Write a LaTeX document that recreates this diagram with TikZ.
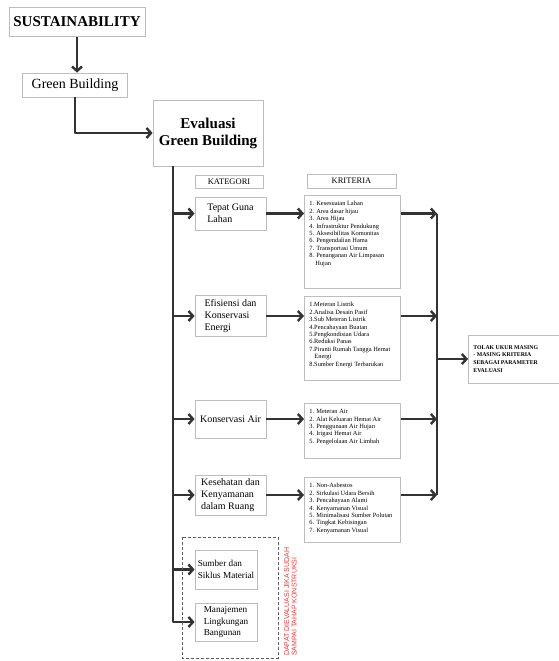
\documentclass[tikz,border=0pt]{standalone}
\usepackage{fontspec}
\setmainfont{Liberation Serif}
\newfontfamily\notefont{Liberation Sans}
\usetikzlibrary{arrows.meta,calc,positioning}
\definecolor{boxgray}{HTML}{BDBDBD}
\definecolor{linegray}{HTML}{333333}
\definecolor{notered}{HTML}{E5383B}
\tikzset{
  box/.style={draw=boxgray,line width=0.8pt,inner sep=0pt,align=left},
  catbox/.style={box,minimum width=71pt,font=\fontsize{10}{12}\selectfont},
  smallcat/.style={catbox,minimum width=62pt,font=\fontsize{9.2}{11.5}\selectfont},
  line/.style={line width=2.4pt,draw=linegray,line join=round},
  flow/.style={line,-{Straight Barb[length=4.5pt,width=10pt]}},
}
\newcommand{\critlist}[2]{\parbox[c][#1][t]{86pt}{\fontsize{6.4}{7.4}\selectfont\vspace*{1pt}#2}}
\begin{document}
\begin{tikzpicture}[x=1pt,y=-1pt]
\useasboundingbox (0,0) rectangle (559,661);
% top of the chain
\node[box,minimum width=136pt,minimum height=29pt,font=\bfseries\fontsize{15}{17}\selectfont] (sust) at (77,22) {SUSTAINABILITY};
\node[box,minimum width=105pt,minimum height=24pt,font=\fontsize{14}{16}\selectfont] (green) at (75,85) {Green Building};
\node[box,minimum width=110pt,minimum height=66pt,align=center,font=\bfseries\fontsize{15}{17}\selectfont] (eval) at (208,133) {Evaluasi\\Green Building};
\node[box,minimum width=68pt,minimum height=13pt,font=\fontsize{8.5}{9}\selectfont] (kat) at (229,182) {KATEGORI};
\node[box,minimum width=89pt,minimum height=14pt,font=\fontsize{8.5}{9}\selectfont] (krit) at (351.5,181) {KRITERIA};
% kategori
\node[catbox,minimum height=33pt] (tgl) at (230.5,213.5) {Tepat Guna\\Lahan};
\node[catbox,minimum height=41pt] (eke) at (230.5,316) {Efisiensi dan\\Konservasi\\Energi};
\node[catbox,minimum height=38pt] (ka) at (230.5,419) {Konservasi Air};
\node[catbox,minimum height=40pt] (kkr) at (230.5,495) {Kesehatan dan\\Kenyamanan\\dalam Ruang};
\node[smallcat,minimum height=39pt] (ssm) at (226,569.5) {Sumber dan\\Siklus Material};
\node[smallcat,minimum height=38pt] (mlb) at (226,622) {Manajemen\\Lingkungan\\Bangunan};
% kriteria
\node[box,inner sep=5pt,anchor=north west] (k1) at (304,195) {\critlist{83pt}{1. Kesesuaian Lahan\\2. Area dasar hijau\\3. Area Hijau\\4. Infrastruktur Pendukung\\5. Aksesibilitas Komunitas\\6. Pengendalian Hama\\7. Transportasi Umum\\8. Penanganan Air Limpasan\\\hspace*{6pt}Hujan}};
\node[box,inner sep=5pt,anchor=north west] (k2) at (304,296) {\critlist{74pt}{1.Meteran Listrik\\2.Analisa Desain Pasif\\3.Sub Meteran Listrik\\4.Pencahayaan Buatan\\5.Pengkondisian Udara\\6.Reduksi Panas\\7.Piranti Rumah Tangga Hemat\\\hspace*{5pt}Energi\\8.Sumber Energi Terbarukan}};
\node[box,inner sep=5pt,anchor=north west] (k3) at (304,403) {\critlist{45pt}{1. Meteran Air\\2. Alat Keluaran Hemat Air\\3. Penggunaan Air Hujan\\4. Irigasi Hemat Air\\5. Pengelolaan Air Limbah}};
\node[box,inner sep=5pt,anchor=north west] (k4) at (304,477) {\critlist{55pt}{1. Non-Asbestos\\2. Sirkulasi Udara Bersih\\3. Pencahayaan Alami\\4. Kenyamanan Visual\\5. Minimalisasi Sumber Polutan\\6. Tingkat Kebisingan\\7. Kenyamanan Visual}};
\node[box,minimum width=94pt,minimum height=48pt,font=\bfseries\fontsize{5.8}{7.8}\selectfont,anchor=west] (tolak) at (468,359) {\hspace*{4pt}\parbox{88pt}{TOLAK UKUR MASING\\- MASING KRITERIA\\SEBAGAI PARAMETER\\EVALUASI}};
% trunks
\coordinate (lt) at (173,0);
\coordinate (rt) at (437,0);
\draw[flow] (sust.south) -- (sust.south |- green.north);
\draw[flow] (green.south) -- (green.south |- eval.west) -- (eval.west);
\draw[flow] (lt |- eval.south) -- (lt |- mlb.west) -- (mlb.west);
\draw[line] (rt |- tgl.east) -- (rt |- kkr.east);
\foreach \c in {tgl,eke,ka,kkr,ssm}{\draw[flow] (lt |- \c.west) -- (\c.west);}
\foreach \c/\k in {tgl/k1,eke/k2,ka/k3,kkr/k4}{
  \draw[flow] (\c.east) -- (\c.east -| \k.west);
  \draw[flow] (\c.east -| \k.east) -- (\c.east -| rt);
}
\draw[flow] (rt |- tolak.west) -- (tolak.west);
% tahap konstruksi
\draw[densely dashed,line width=1pt,draw=linegray!80] (182,537) rectangle (278,658);
\node[rotate=90,anchor=north west,align=left,inner sep=0pt,text=notered,font=\notefont\fontsize{7}{7.5}\selectfont] (note) at (284,656) {DAPAT DIEVALUASI JIKA SUDAH\\SAMPAI TAHAP KONSTRUKSI};
\end{tikzpicture}
\end{document}
